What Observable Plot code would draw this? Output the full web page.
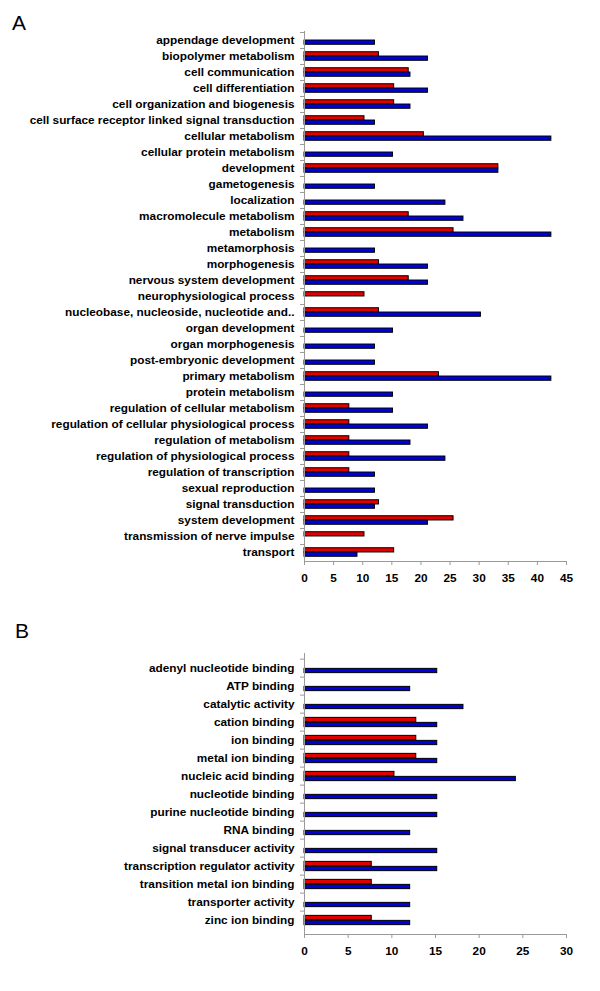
<!DOCTYPE html>
<html><head><meta charset="utf-8">
<script src="https://cdn.jsdelivr.net/npm/d3@7"></script>
<script src="https://cdn.jsdelivr.net/npm/@observablehq/plot@0.6"></script>
<style>
body{margin:0;background:#fff;font-family:"Liberation Sans",Arial,Helvetica,sans-serif}
#wrap{position:relative;width:600px;height:991px;overflow:hidden}
.panel{position:absolute;left:0}
.letter{position:absolute;font-size:21px;line-height:1;font-weight:normal;color:#000}
</style></head><body>
<div id="wrap">
  <div class="panel" id="pA" style="top:0"></div>
  <div class="panel" id="pB" style="top:600px"></div>
  <div class="letter" style="left:12px;top:12px">A</div>
  <div class="letter" style="left:15px;top:620px">B</div>
</div>
<script>
const catsA = ["appendage development","biopolymer metabolism","cell communication","cell differentiation","cell organization and biogenesis","cell surface receptor linked signal transduction","cellular metabolism","cellular protein metabolism","development","gametogenesis","localization","macromolecule metabolism","metabolism","metamorphosis","morphogenesis","nervous system development","neurophysiological process","nucleobase, nucleoside, nucleotide and..","organ development","organ morphogenesis","post-embryonic development","primary metabolism","protein metabolism","regulation of cellular metabolism","regulation of cellular physiological process","regulation of metabolism","regulation of physiological process","regulation of transcription","sexual reproduction","signal transduction","system development","transmission of nerve impulse","transport"];
const redA  = [0,12.8,17.9,15.4,15.4,10.3,20.5,0,33.3,0,0,17.9,25.6,0,12.8,17.9,10.3,12.8,0,0,0,23.1,0,7.7,7.7,7.7,7.7,7.7,0,12.8,25.6,10.3,15.4];
const blueA = [12.1,21.2,18.2,21.2,18.2,12.1,42.4,15.2,33.3,12.1,24.2,27.3,42.4,12.1,21.2,21.2,0,30.3,15.2,12.1,12.1,42.4,15.2,15.2,21.2,18.2,24.2,12.1,12.1,12.1,21.2,0,9.1];
const ticksA = [0,5,10,15,20,25,30,35,40,45];

const catsB = ["adenyl nucleotide binding","ATP binding","catalytic activity","cation binding","ion binding","metal ion binding","nucleic acid binding","nucleotide binding","purine nucleotide binding","RNA binding","signal transducer activity","transcription regulator activity","transition metal ion binding","transporter activity","zinc ion binding"];
const redB  = [0,0,0,12.8,12.8,12.8,10.3,0,0,0,0,7.7,7.7,0,7.7];
const blueB = [15.2,12.1,18.2,15.2,15.2,15.2,24.2,15.2,15.2,12.1,15.2,15.2,12.1,12.1,12.1];
const ticksB = [0,5,10,15,20,25,30];

const RED = "#e00000", BLUE = "#0000d8", AXIS = "#9a9a9a";

function panel(cats, red, blue, ticks, height, mt, mb, barH, pad) {
  const rows = cats.map((c, i) => ({c, red: red[i], blue: blue[i]}));
  const step = (height - mt - mb) / cats.length;
  const half = step / 2;
  return Plot.plot({
    width: 600, height,
    marginLeft: 304, marginRight: 34, marginTop: mt, marginBottom: mb,
    style: {fontFamily: '"Liberation Sans", Arial, Helvetica, sans-serif', fontSize: "11.8px", fontWeight: "bold", color: "#000", background: "#fff"},
    x: {domain: [ticks[0], ticks[ticks.length - 1]]},
    y: {domain: cats, padding: 0},
    marks: [
      Plot.barX(rows.filter(d => d.red > 0), {y: "c", x: "red", fill: RED, stroke: "#000", strokeWidth: 1, insetTop: half - barH, insetBottom: half}),
      Plot.barX(rows.filter(d => d.blue > 0), {y: "c", x: "blue", fill: BLUE, stroke: "#000", strokeWidth: 1, insetTop: half, insetBottom: half - barH}),
      Plot.ruleX([0], {stroke: AXIS}),
      Plot.frame({anchor: "bottom", stroke: AXIS}),
      Plot.axisX({ticks, tickSize: 4, tickPadding: pad, stroke: AXIS, fill: "#000", label: null}),
      Plot.axisY({tickSize: 0, tickPadding: 10, fill: "#000", label: null}),
      Plot.axisY({tickSize: 4, tickFormat: () => "", dy: -half, stroke: AXIS, label: null})
    ]
  });
}

document.getElementById("pA").append(panel(catsA, redA, blueA, ticksA, 595, 31, 34, 4.3, 8));
document.getElementById("pB").append(panel(catsB, redB, blueB, ticksB, 391, 53, 57, 5, 8));
</script>
</body></html>
